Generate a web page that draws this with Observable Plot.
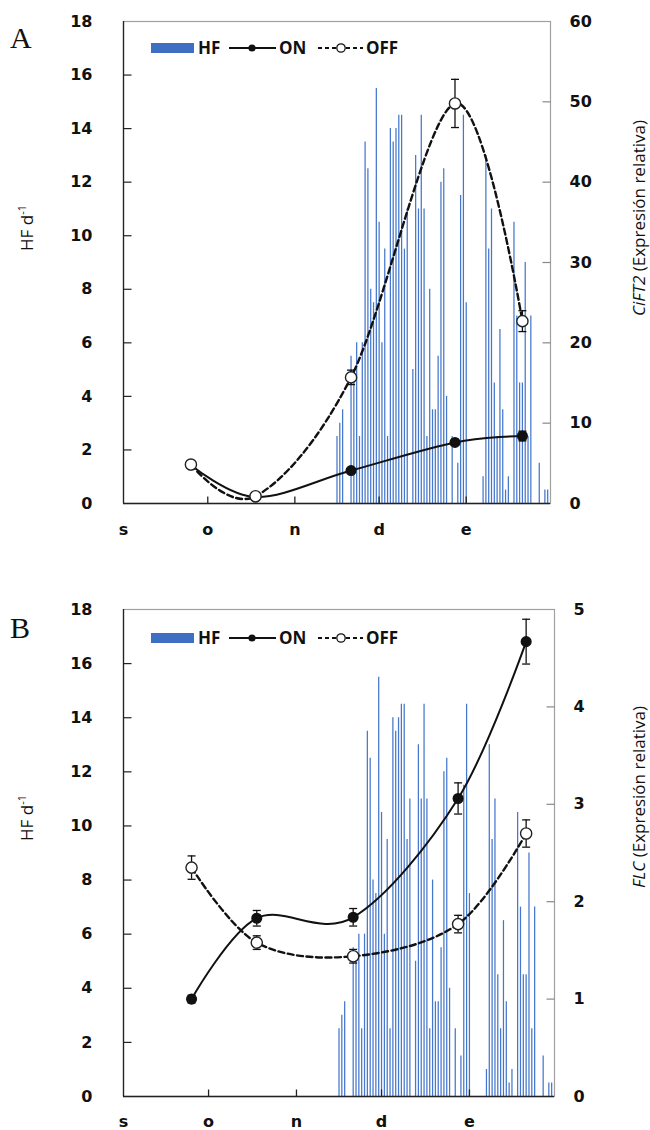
<!DOCTYPE html>
<html><head><meta charset="utf-8">
<script src="https://cdn.jsdelivr.net/npm/d3@7"></script>
<script src="https://cdn.jsdelivr.net/npm/@observablehq/plot@0.6"></script>
<style>
body{margin:0;background:#fff;}
#chart{width:650px;}
#chart svg{display:block;}
</style></head><body><div id="chart"></div>
<script>
// ---- data ----
const monthLabels = ["s", "o", "n", "d", "e"];
const monthStarts = [0, 30, 61, 91, 122];          // days since 1 Sept
const leftTicks = [0, 2, 4, 6, 8, 10, 12, 14, 16, 18];
const rightTicksA = [0, 10, 20, 30, 40, 50, 60];
const rightTicksB = [0, 1, 2, 3, 4, 5];

const hfDays = [76,77,78,81,82,83,84,85,86,87,88,89,90,91,92,93,94,95,96,97,98,99,100,101,103,104,105,106,107,108,109,110,111,112,113,114,115,117,119,120,121,122,128,129,130,131,132,133,134,135,136,137,139,140,141,142,143,144,145,148,150,151];
const hfValues = [2.5,3.0,3.5,5.5,5.0,6.0,2.5,6.0,13.5,12.5,8.0,7.5,15.5,10.5,6.0,9.5,2.5,14.0,13.5,14.0,14.5,14.5,9.5,11.0,5.0,13.0,11.0,14.5,11.0,2.5,8.0,3.5,3.5,5.5,12.0,12.5,4.0,2.5,1.5,11.5,14.5,7.5,1.0,13.0,9.5,11.0,4.5,2.5,6.5,3.5,0.5,1.0,10.5,7.0,4.5,4.5,9.0,2.5,7.0,1.5,0.5,0.5];

const sampleDays = [24, 47, 81, 118, 142];
const onA = [4.8, 0.8, 4.1, 7.6, 8.4];
const onAErr = [0.2, 0.1, 0.2, 0.3, 0.6];
const offA = [4.85, 0.9, 15.7, 49.8, 22.7];
const offAErr = [0.2, 0.2, 0.9, 3.0, 1.3];
const onB = [1.0, 1.83, 1.84, 3.06, 4.67];
const onBErr = [0.04, 0.08, 0.09, 0.16, 0.23];
const offB = [2.35, 1.58, 1.44, 1.77, 2.70];
const offBErr = [0.12, 0.07, 0.07, 0.09, 0.14];

// ---- helpers ----
const hf = hfDays.map((d, i) => ({day: d, value: hfValues[i]}));
const symLen = s => Math.sqrt(s / Math.PI);
const tickUp = {draw(c, s) { const l = symLen(s); c.moveTo(0, 0); c.lineTo(0, -l); }};
const tickRight = {draw(c, s) { const l = symLen(s); c.moveTo(0, 0); c.lineTo(l, 0); }};
const tickLeft = {draw(c, s) { const l = symLen(s); c.moveTo(0, 0); c.lineTo(-l, 0); }};
const cap = {draw(c, s) { const l = symLen(s); c.moveTo(-l, 0); c.lineTo(l, 0); }};

const TICKFONT = "DejaVu Sans";
const BLUE = "#4577cc";

function panel(cfg) {
  const k = 18 / cfg.rightMax;
  const rows = sampleDays.map((d, i) => ({day: d, on: cfg.on[i], onErr: cfg.onErr[i], off: cfg.off[i], offErr: cfg.offErr[i]}));
  const errMarks = (key, ekey) => [
    Plot.ruleX(rows, {x: "day", y1: r => (r[key] - r[ekey]) * k, y2: r => (r[key] + r[ekey]) * k, stroke: "#111", strokeWidth: 1.3}),
    Plot.dot(rows, {x: "day", y: r => (r[key] + r[ekey]) * k, symbol: cap, r: 4, stroke: "#111", fill: "none", strokeWidth: 1.3}),
    Plot.dot(rows, {x: "day", y: r => (r[key] - r[ekey]) * k, symbol: cap, r: 4, stroke: "#111", fill: "none", strokeWidth: 1.3})
  ];
  return Plot.plot({
    width: 650, height: cfg.height,
    marginTop: cfg.mt, marginBottom: cfg.mb, marginLeft: 123, marginRight: cfg.mr,
    x: {domain: [0, 152]},
    y: {domain: [0, 18]},
    style: {fontFamily: TICKFONT, background: "white", overflow: "visible"},
    marks: [
      Plot.ruleX(hf, {x: "day", y1: 0, y2: "value", stroke: BLUE, strokeWidth: 1.25}),
      Plot.frame({stroke: "#a0a0a0", strokeWidth: 1.2}),
      Plot.ruleX([0], {stroke: "#222", strokeWidth: 1.3}),
      Plot.ruleY([0], {stroke: "#222", strokeWidth: 1.3}),
      Plot.dot(monthStarts.slice(1), {x: d => d, frameAnchor: "bottom", symbol: tickUp, r: 7, stroke: "#222", fill: "none", strokeWidth: 1.3}),
      Plot.dot(leftTicks.slice(1, -1), {y: d => d, frameAnchor: "left", symbol: tickRight, r: 8, stroke: "#222", fill: "none", strokeWidth: 1.2}),
      Plot.dot(cfg.rightTicks.slice(1, -1), {y: v => v * k, frameAnchor: "right", symbol: tickLeft, r: 8, stroke: "#888", fill: "none", strokeWidth: 1.2}),
      Plot.axisY({anchor: "left", ticks: leftTicks, tickSize: 0, tickPadding: 31, label: null, fontSize: 16, fontWeight: "bold", fill: "#111"}),
      Plot.axisY({anchor: "right", ticks: cfg.rightTicks.map(v => v * k), tickFormat: v => String(Math.round(v / k)), tickSize: 0, tickPadding: 19, label: null, fontSize: 16, fontWeight: "bold", fill: "#111"}),
      Plot.axisX({ticks: monthStarts, tickFormat: d => monthLabels[monthStarts.indexOf(d)], tickSize: 0, tickPadding: cfg.xpad, label: null, fontSize: 16, fontWeight: "bold", fill: "#111"}),
      Plot.line(rows, {x: "day", y: r => r.off * k, curve: "cardinal", stroke: "#111", strokeWidth: 2.4, strokeDasharray: "6,3.5"}),
      Plot.line(rows, {x: "day", y: r => r.on * k, curve: "cardinal", stroke: "#111", strokeWidth: 2}),
      ...errMarks("off", "offErr"),
      ...errMarks("on", "onErr"),
      Plot.dot(rows, {x: "day", y: r => r.on * k, r: 4.8, fill: "#111", stroke: "#111"}),
      Plot.dot(rows, {x: "day", y: r => r.off * k, r: 5.6, fill: "white", stroke: "#222", strokeWidth: 1.4})
    ]
  });
}

function decorate(svgNode, cfg) {
  const svg = d3.select(svgNode);
  const o = cfg.offset;
  // panel letter
  svg.append("text").attr("x", 10).attr("y", cfg.letterY - o).attr("text-anchor", "start")
    .attr("font-family", "Liberation Serif").attr("font-size", 30).attr("fill", "#111").text(cfg.letter);
  // left title
  const lt = svg.append("text").attr("transform", `translate(33,${cfg.leftTitleY - o}) rotate(-90)`)
    .attr("text-anchor", "middle").attr("font-family", "Open Sans").attr("font-size", 17).attr("fill", "#111");
  lt.append("tspan").text("HF d");
  lt.append("tspan").attr("dy", -7).attr("font-size", 11).text("-1");
  // right title
  const rt = svg.append("text").attr("transform", `translate(645,${cfg.rightTitleY - o}) rotate(-90)`)
    .attr("text-anchor", "middle").attr("font-family", "Open Sans").attr("font-size", 17).attr("fill", "#111");
  rt.append("tspan").attr("font-style", "italic").text(cfg.gene);
  rt.append("tspan").text(" (Expresión relativa)");
  // legend
  const cy = cfg.legendY - o;
  const g = svg.append("g").attr("font-family", "Open Sans").attr("font-weight", "bold").attr("font-size", 17)
    .attr("fill", "#111").attr("text-anchor", "start");
  g.append("rect").attr("x", 151).attr("y", cy - 5).attr("width", 43).attr("height", 10).attr("fill", "#3e6fc2");
  g.append("text").attr("x", 198).attr("y", cy + 6).text("HF");
  g.append("line").attr("x1", 229).attr("x2", 276).attr("y1", cy).attr("y2", cy).attr("stroke", "#111").attr("stroke-width", 2);
  g.append("circle").attr("cx", 252).attr("cy", cy).attr("r", 3.6).attr("fill", "#111");
  g.append("text").attr("x", 279).attr("y", cy + 6).text("ON");
  g.append("line").attr("x1", 318).attr("x2", 363).attr("y1", cy).attr("y2", cy).attr("stroke", "#111").attr("stroke-width", 2).attr("stroke-dasharray", "4,3");
  g.append("circle").attr("cx", 341).attr("cy", cy).attr("r", 4.2).attr("fill", "white").attr("stroke", "#111").attr("stroke-width", 1.3);
  g.append("text").attr("x", 366).attr("y", cy + 6).text("OFF");
}

const chart = document.getElementById("chart");
const cfgA = {height: 565, mt: 21, mb: 62, mr: 100, xpad: 20, rightMax: 60, rightTicks: rightTicksA,
  on: onA, onErr: onAErr, off: offA, offErr: offAErr,
  offset: 0, letter: "A", letterY: 48, leftTitleY: 228, rightTitleY: 218, gene: "CiFT2", legendY: 48};
const cfgB = {height: 565, mt: 44, mb: 34, mr: 96, xpad: 19, rightMax: 5, rightTicks: rightTicksB,
  on: onB, onErr: onBErr, off: offB, offErr: offBErr,
  offset: 565, letter: "B", letterY: 638, leftTitleY: 818, rightTitleY: 797, gene: "FLC", legendY: 638};
for (const cfg of [cfgA, cfgB]) {
  const p = panel(cfg);
  decorate(p, cfg);
  chart.appendChild(p);
}
</script>
</body></html>
